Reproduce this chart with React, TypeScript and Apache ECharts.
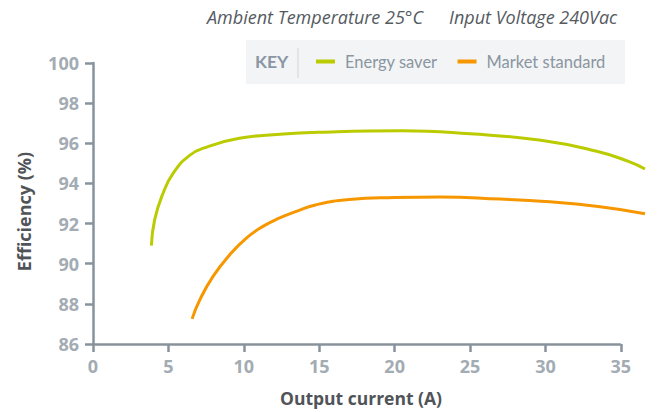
import React, { useEffect, useRef } from "react";
import * as echarts from "echarts";

const energySaverX = [3.87, 4.09, 4.64, 5.31, 6.41, 7.5, 9.7, 12.4, 15, 20.5, 25, 29.7, 33.4, 35.5, 36.6];
const energySaverY = [90.9, 92.2, 93.5, 94.5, 95.4, 95.8, 96.25, 96.45, 96.55, 96.62, 96.47, 96.15, 95.6, 95.1, 94.72];
const marketX = [6.57, 7.08, 7.96, 9.07, 10.17, 11.27, 12.38, 13.49, 14.81, 17, 20, 23, 27, 30, 33.5, 36.6];
const marketY = [87.25, 88.2, 89.37, 90.45, 91.28, 91.86, 92.28, 92.61, 92.94, 93.2, 93.3, 93.33, 93.22, 93.1, 92.85, 92.49];
const xTicks = [0, 5, 10, 15, 20, 25, 30, 35];
const seriesNames = ["Energy saver", "Market standard"];
const headerTexts = ["Ambient Temperature 25°C", "Input Voltage 240Vac"];

const GREEN = "#bacb00";
const ORANGE = "#f79700";
const AXIS = "#87929c";
const TICK_LABEL = "#a3abb3";
const FONT = "'Open Sans', Lato, sans-serif";
const LFONT = "Lato, 'Open Sans', sans-serif";

export default function App() {
  const ref = useRef<HTMLDivElement>(null);
  useEffect(() => {
    if (!ref.current) return;
    const chart = echarts.init(ref.current, null, { renderer: "svg" });
    const zip = (xs: number[], ys: number[]) => xs.map((x, i) => [x, ys[i]]);
    chart.setOption({
      animation: false,
      textStyle: { fontFamily: FONT },
      grid: { left: 93, right: 22, top: 63, bottom: 67, containLabel: false },
      graphic: [
        { type: "text", left: 207, top: 8, style: { text: headerTexts[0], fontFamily: FONT, fontStyle: "italic", fontSize: 18, fill: "#555a5f" } },
        { type: "text", left: 449, top: 8, style: { text: headerTexts[1], fontFamily: FONT, fontStyle: "italic", fontSize: 18, fill: "#555a5f" } },
        { type: "rect", shape: { x: 246, y: 40, width: 379, height: 44 }, style: { fill: "#f3f4f6" }, z: -1 },
        { type: "text", left: 255, top: 52, style: { text: "KEY", fontFamily: LFONT, fontWeight: "bold", fontSize: 17.5, fill: "#8a96a3" } },
        { type: "rect", shape: { x: 297, y: 48, width: 2, height: 30 }, style: { fill: "#e2e5e8" } },
      ],
      legend: {
        left: 316,
        top: 53,
        padding: 0,
        icon: "rect",
        itemWidth: 19,
        itemHeight: 4,
        itemGap: 20,
        textStyle: { fontFamily: LFONT, fontSize: 16.5, color: "#8a96a0", padding: [0, 0, 0, 5] },
        data: seriesNames,
      },
      xAxis: {
        type: "value",
        min: 0,
        max: 36.6,
        interval: 5,
        name: "Output current (A)",
        nameLocation: "middle",
        nameGap: 45,
        nameTextStyle: { fontFamily: FONT, fontWeight: "bold", fontSize: 17.5, color: "#505458", padding: [0, 16, 0, 0] },
        axisLine: { show: false },
        axisTick: { show: true, length: 8, customValues: xTicks, lineStyle: { color: AXIS, width: 2.5 } },
        axisLabel: { margin: 13, customValues: xTicks, fontFamily: FONT, fontWeight: "bold", fontSize: 18, color: TICK_LABEL },
        splitLine: { show: false },
      },
      yAxis: {
        type: "value",
        min: 86,
        max: 100,
        interval: 2,
        name: "Efficiency (%)",
        nameLocation: "middle",
        nameGap: 60,
        nameRotate: 90,
        nameTextStyle: { fontFamily: FONT, fontWeight: "bold", fontSize: 18, color: "#505458", padding: [0, 16, 0, 0] },
        axisLine: { show: true, lineStyle: { color: AXIS, width: 2.5 } },
        axisTick: { show: true, length: 8, lineStyle: { color: AXIS, width: 2.5 } },
        axisLabel: { margin: 14, fontFamily: FONT, fontWeight: "bold", fontSize: 18, color: TICK_LABEL },
        splitLine: { show: false },
      },
      series: [
        {
          name: seriesNames[0],
          type: "line",
          data: zip(energySaverX, energySaverY),
          smooth: 0.5,
          showSymbol: false,
          lineStyle: { color: GREEN, width: 3 },
          itemStyle: { color: GREEN },
          markLine: {
            silent: true,
            symbol: "none",
            label: { show: false },
            lineStyle: { color: AXIS, width: 2.5, type: "solid" },
            data: [[{ coord: [xTicks[0], 86] }, { coord: [xTicks[xTicks.length - 1], 86] }]],
            z: 1,
          },
        },
        {
          name: seriesNames[1],
          type: "line",
          data: zip(marketX, marketY),
          smooth: 0.5,
          showSymbol: false,
          lineStyle: { color: ORANGE, width: 3 },
          itemStyle: { color: ORANGE },
        },
      ],
    });
    return () => chart.dispose();
  }, []);
  return <div ref={ref} style={{ width: 667, height: 412, position: "absolute", left: 0, top: 0 }} />;
}
